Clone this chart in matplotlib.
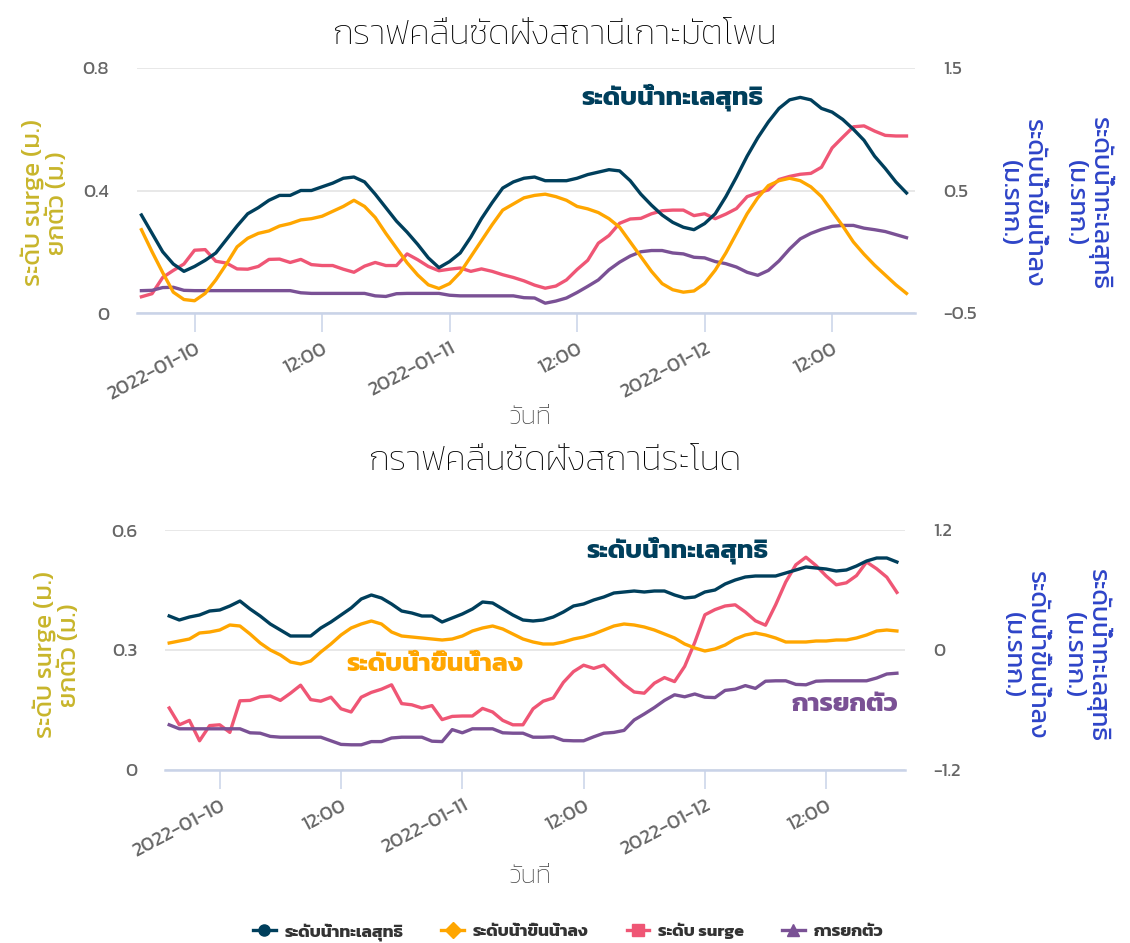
import pandas as pd
import matplotlib
matplotlib.use('Agg')
import matplotlib.pyplot as plt
import matplotlib.dates as mdates
from matplotlib import font_manager
from matplotlib.ft2font import FT2Font
from matplotlib.lines import Line2D

# hourly readings, 2022-01-09 19:00 .. 2022-01-12 19:00
times = pd.date_range('2022-01-09 19:00', '2022-01-12 19:00', freq='h')

# station 1 : net sea level / tide in m.MSL, surge / uplift in m
mat_net = [0.30, 0.15, 0.00, -0.10, -0.16, -0.12, -0.07, -0.01, 0.10, 0.21, 0.31, 0.36,
           0.42, 0.46, 0.46, 0.50, 0.50, 0.53, 0.56, 0.60, 0.61, 0.57, 0.47, 0.36,
           0.25, 0.16, 0.06, -0.05, -0.13, -0.08, -0.01, 0.12, 0.27, 0.40, 0.52, 0.57,
           0.60, 0.61, 0.58, 0.58, 0.58, 0.60, 0.63, 0.65, 0.67, 0.66, 0.58, 0.47,
           0.38, 0.30, 0.24, 0.20, 0.18, 0.23, 0.31, 0.45, 0.61, 0.78, 0.93, 1.06,
           1.17, 1.24, 1.26, 1.24, 1.17, 1.14, 1.08, 1.00, 0.91, 0.78, 0.68, 0.57,
           0.48]
mat_tide = [0.18, 0.00, -0.17, -0.33, -0.39, -0.40, -0.34, -0.23, -0.10, 0.04, 0.11, 0.15,
            0.17, 0.21, 0.23, 0.26, 0.27, 0.29, 0.33, 0.37, 0.42, 0.37, 0.28, 0.15,
            0.03, -0.09, -0.19, -0.27, -0.30, -0.26, -0.17, -0.04, 0.09, 0.22, 0.34, 0.39,
            0.44, 0.46, 0.47, 0.45, 0.42, 0.37, 0.35, 0.32, 0.27, 0.20, 0.08, -0.04,
            -0.16, -0.26, -0.31, -0.33, -0.32, -0.26, -0.15, -0.01, 0.15, 0.31, 0.44, 0.54,
            0.58, 0.60, 0.58, 0.53, 0.45, 0.33, 0.21, 0.08, -0.02, -0.11, -0.19, -0.27,
            -0.34]
mat_surge = [0.053, 0.063, 0.116, 0.139, 0.160, 0.205, 0.207, 0.169, 0.163, 0.144, 0.143, 0.152,
             0.175, 0.176, 0.165, 0.175, 0.158, 0.155, 0.155, 0.143, 0.133, 0.153, 0.165, 0.155,
             0.155, 0.193, 0.174, 0.152, 0.138, 0.143, 0.147, 0.136, 0.144, 0.136, 0.125, 0.116,
             0.105, 0.091, 0.081, 0.088, 0.108, 0.142, 0.172, 0.228, 0.253, 0.293, 0.307, 0.309,
             0.324, 0.334, 0.336, 0.336, 0.318, 0.324, 0.308, 0.323, 0.341, 0.380, 0.392, 0.402,
             0.436, 0.446, 0.453, 0.456, 0.476, 0.539, 0.574, 0.608, 0.611, 0.594, 0.580, 0.578,
             0.578]
mat_uplift = [0.073, 0.074, 0.083, 0.084, 0.074, 0.073, 0.073, 0.073, 0.073, 0.073, 0.073, 0.073,
              0.073, 0.073, 0.073, 0.066, 0.064, 0.064, 0.064, 0.064, 0.064, 0.064, 0.056, 0.054,
              0.063, 0.064, 0.064, 0.064, 0.064, 0.058, 0.056, 0.056, 0.056, 0.056, 0.056, 0.056,
              0.050, 0.049, 0.032, 0.039, 0.049, 0.067, 0.087, 0.108, 0.141, 0.166, 0.186, 0.200,
              0.204, 0.204, 0.196, 0.193, 0.182, 0.180, 0.168, 0.161, 0.150, 0.133, 0.123, 0.139,
              0.170, 0.209, 0.242, 0.260, 0.273, 0.283, 0.286, 0.286, 0.277, 0.272, 0.266, 0.256,
              0.246]

# station 2
ran_net = [0.34, 0.30, 0.33, 0.35, 0.39, 0.40, 0.44, 0.49, 0.41, 0.34, 0.26, 0.20,
           0.14, 0.14, 0.14, 0.22, 0.28, 0.35, 0.42, 0.51, 0.55, 0.52, 0.46, 0.39,
           0.37, 0.34, 0.34, 0.28, 0.32, 0.36, 0.41, 0.48, 0.47, 0.41, 0.35, 0.30,
           0.29, 0.30, 0.33, 0.38, 0.44, 0.46, 0.50, 0.53, 0.57, 0.58, 0.59, 0.58,
           0.59, 0.59, 0.55, 0.52, 0.53, 0.58, 0.60, 0.66, 0.70, 0.73, 0.74, 0.74,
           0.74, 0.77, 0.80, 0.83, 0.82, 0.81, 0.79, 0.80, 0.84, 0.89, 0.92, 0.92,
           0.88]
ran_tide = [0.07, 0.09, 0.11, 0.17, 0.18, 0.20, 0.25, 0.24, 0.16, 0.07, 0.00, -0.05,
            -0.12, -0.14, -0.11, -0.02, 0.06, 0.15, 0.22, 0.26, 0.29, 0.26, 0.18, 0.14,
            0.13, 0.12, 0.11, 0.10, 0.11, 0.14, 0.19, 0.22, 0.24, 0.21, 0.16, 0.11,
            0.08, 0.06, 0.06, 0.08, 0.11, 0.13, 0.16, 0.20, 0.24, 0.26, 0.25, 0.23,
            0.20, 0.16, 0.12, 0.06, 0.02, -0.01, 0.01, 0.05, 0.11, 0.15, 0.17, 0.15,
            0.12, 0.08, 0.08, 0.08, 0.09, 0.09, 0.10, 0.10, 0.12, 0.15, 0.19, 0.20,
            0.19]
ran_surge = [0.155, 0.113, 0.124, 0.073, 0.111, 0.113, 0.094, 0.173, 0.174, 0.183, 0.185, 0.174,
             0.192, 0.212, 0.176, 0.172, 0.182, 0.153, 0.145, 0.182, 0.194, 0.202, 0.213, 0.166,
             0.163, 0.155, 0.161, 0.126, 0.134, 0.135, 0.135, 0.154, 0.145, 0.124, 0.113, 0.113,
             0.153, 0.172, 0.180, 0.219, 0.246, 0.262, 0.254, 0.262, 0.238, 0.214, 0.195, 0.192,
             0.217, 0.231, 0.221, 0.259, 0.319, 0.388, 0.401, 0.410, 0.413, 0.395, 0.373, 0.362,
             0.413, 0.470, 0.513, 0.532, 0.511, 0.485, 0.463, 0.468, 0.486, 0.520, 0.503, 0.482,
             0.444]
ran_uplift = [0.113, 0.103, 0.103, 0.103, 0.103, 0.103, 0.103, 0.103, 0.093, 0.092, 0.084, 0.082,
              0.082, 0.082, 0.082, 0.082, 0.073, 0.064, 0.063, 0.063, 0.071, 0.071, 0.080, 0.082,
              0.082, 0.082, 0.072, 0.071, 0.101, 0.093, 0.103, 0.103, 0.103, 0.093, 0.092, 0.092,
              0.082, 0.082, 0.083, 0.074, 0.073, 0.073, 0.083, 0.092, 0.094, 0.099, 0.125, 0.140,
              0.156, 0.174, 0.188, 0.183, 0.190, 0.182, 0.181, 0.199, 0.202, 0.211, 0.204, 0.222,
              0.223, 0.223, 0.214, 0.213, 0.222, 0.223, 0.223, 0.223, 0.223, 0.223, 0.230, 0.240,
              0.242]

series_names = ['ระดับน้ำทะเลสุทธิ', 'ระดับน้ำขึ้นน้ำลง', 'ระดับ surge', 'การยกตัว']
colors = ['#003f5c', '#ffa600', '#ef5675', '#7a5195']
markers = ['o', 'D', 's', '^']


def thai_family():
    wanted = ['Kanit', 'Prompt', 'Noto Sans Thai', 'Sarabun', 'Loma', 'Garuda', 'Waree', 'Laksaman']
    found = []
    for fe in font_manager.fontManager.ttflist:
        try:
            if 0x0E01 in FT2Font(fe.fname).get_charmap():
                found.append(fe.name)
        except Exception:
            pass
    for w in wanted:
        if w in found:
            return w
    return found[0] if found else None


th = thai_family()
plt.rcParams['font.family'] = ([th] if th else []) + ['DejaVu Sans']

W, H = 1130, 943
fig = plt.figure(figsize=(W / 100, H / 100), dpi=100)

GRAY = '#666666'
AXIS = '#c9d3e8'
LEFT_C = '#c8b52b'
RIGHT_C = '#2e44c8'


def box(x0, x1, y0, y1):
    return [x0 / W, 1 - y1 / H, (x1 - x0) / W, (y1 - y0) / H]


def fmt_date(x, pos=None):
    d = mdates.num2date(x)
    return d.strftime('%Y-%m-%d') if d.hour == 0 else d.strftime('%H:%M')


def station(rect, title, net, tide, surge, uplift, llim, lticks, rlim, rticks,
            title_y, xlabel_y, lab_y, lab_left, lab_right, notes):
    ax = fig.add_axes(box(*rect))
    ax2 = ax.twinx()
    ax.plot(times, surge, color=colors[2], lw=2.4, zorder=3)
    ax.plot(times, uplift, color=colors[3], lw=2.4, zorder=3)
    ax2.plot(times, tide, color=colors[1], lw=2.4)
    ax2.plot(times, net, color=colors[0], lw=2.4)

    ax.set_ylim(*llim)
    ax.set_yticks(lticks)
    ax.set_yticklabels([f'{v:g}' for v in lticks])
    ax2.set_ylim(*rlim)
    ax2.set_yticks(rticks)
    ax2.set_yticklabels([f'{v:g}' for v in rticks])
    ax.set_xlim(pd.Timestamp('2022-01-09 18:35'), pd.Timestamp('2022-01-12 19:48'))

    ax.grid(axis='y', color='#e4e4e4', lw=1.2)
    ax.set_axisbelow(True)
    for a in (ax, ax2):
        for s in a.spines.values():
            s.set_visible(False)
    ax.spines['bottom'].set_visible(True)
    ax.spines['bottom'].set_color(AXIS)
    ax.spines['bottom'].set_linewidth(1.8)

    ax.tick_params(axis='y', length=0, pad=20, labelsize=13.5, labelcolor=GRAY)
    ax2.tick_params(axis='y', length=0, pad=20, labelsize=13.5, labelcolor=GRAY)
    ax.xaxis.set_major_locator(mdates.HourLocator(byhour=[0, 12]))
    ax.xaxis.set_major_formatter(plt.FuncFormatter(fmt_date))
    ax.tick_params(axis='x', length=14, width=1.1, color=AXIS, labelsize=14.5,
                   labelcolor=GRAY, pad=5)
    for lab in ax.get_xticklabels():
        lab.set_rotation(28)
        lab.set_ha('right')
        lab.set_rotation_mode('anchor')

    fig.text(555 / W, 1 - title_y / H, title, ha='center', va='center',
             fontsize=25, fontweight='light', color='#000000')
    fig.text(530 / W, 1 - xlabel_y / H, 'วันที่', ha='center', va='center',
             fontsize=19, fontweight='light', color='#444444')

    ymid = 1 - lab_y / H
    fig.text(lab_left / W, ymid, 'ระดับ surge (ม.)\nยกตัว (ม.)', rotation=90,
             ha='center', va='center', fontsize=18.5, color=LEFT_C, linespacing=1.0)
    fig.text(lab_right[0] / W, ymid, 'ระดับน้ำขึ้นน้ำลง\n(ม.รทก.)', rotation=270,
             ha='center', va='center', fontsize=18.5, color=RIGHT_C, linespacing=1.0)
    fig.text(lab_right[1] / W, ymid, 'ระดับน้ำทะเลสุทธิ\n(ม.รทก.)', rotation=270,
             ha='center', va='center', fontsize=18.5, color=RIGHT_C, linespacing=1.0)

    for text, fx, fy, c in notes:
        ax.text(fx, fy, text, transform=ax.transAxes, ha='center', va='center',
                fontsize=19, fontweight='bold', color=c)
    return ax


station((137, 915, 68, 313), 'กราฟคลื่นซัดฝั่งสถานีเกาะมัตโพน',
        mat_net, mat_tide, mat_surge, mat_uplift,
        (0, 0.8), [0, 0.4, 0.8], (-0.5, 1.5), [-0.5, 0.5, 1.5],
        35, 418, 203, 46, (1021, 1088),
        [('ระดับน้ำทะเลสุทธิ', 0.688, 0.882, colors[0])])

station((165, 905, 530, 770), 'กราฟคลื่นซัดฝั่งสถานีระโนด',
        ran_net, ran_tide, ran_surge, ran_uplift,
        (0, 0.6), [0, 0.3, 0.6], (-1.2, 1.2), [-1.2, 0, 1.2],
        462, 877, 655, 58, (1024, 1086),
        [('ระดับน้ำทะเลสุทธิ', 0.693, 0.917, colors[0]),
         ('ระดับน้ำขึ้นน้ำลง', 0.365, 0.4375, colors[1]),
         ('การยกตัว', 0.919, 0.271, colors[3])])

handles = [Line2D([], [], color=c, marker=m, lw=2.4, markersize=8)
           for c, m in zip(colors, markers)]
fig.legend(handles, series_names, loc='center', bbox_to_anchor=(568 / W, 1 - 932 / H),
           ncol=4, frameon=False, handlelength=1.3, handletextpad=0.5, columnspacing=2.2,
           prop={'size': 12.5, 'weight': 'bold'}, labelcolor='#333333')

fig.savefig('out.png', dpi=100)
